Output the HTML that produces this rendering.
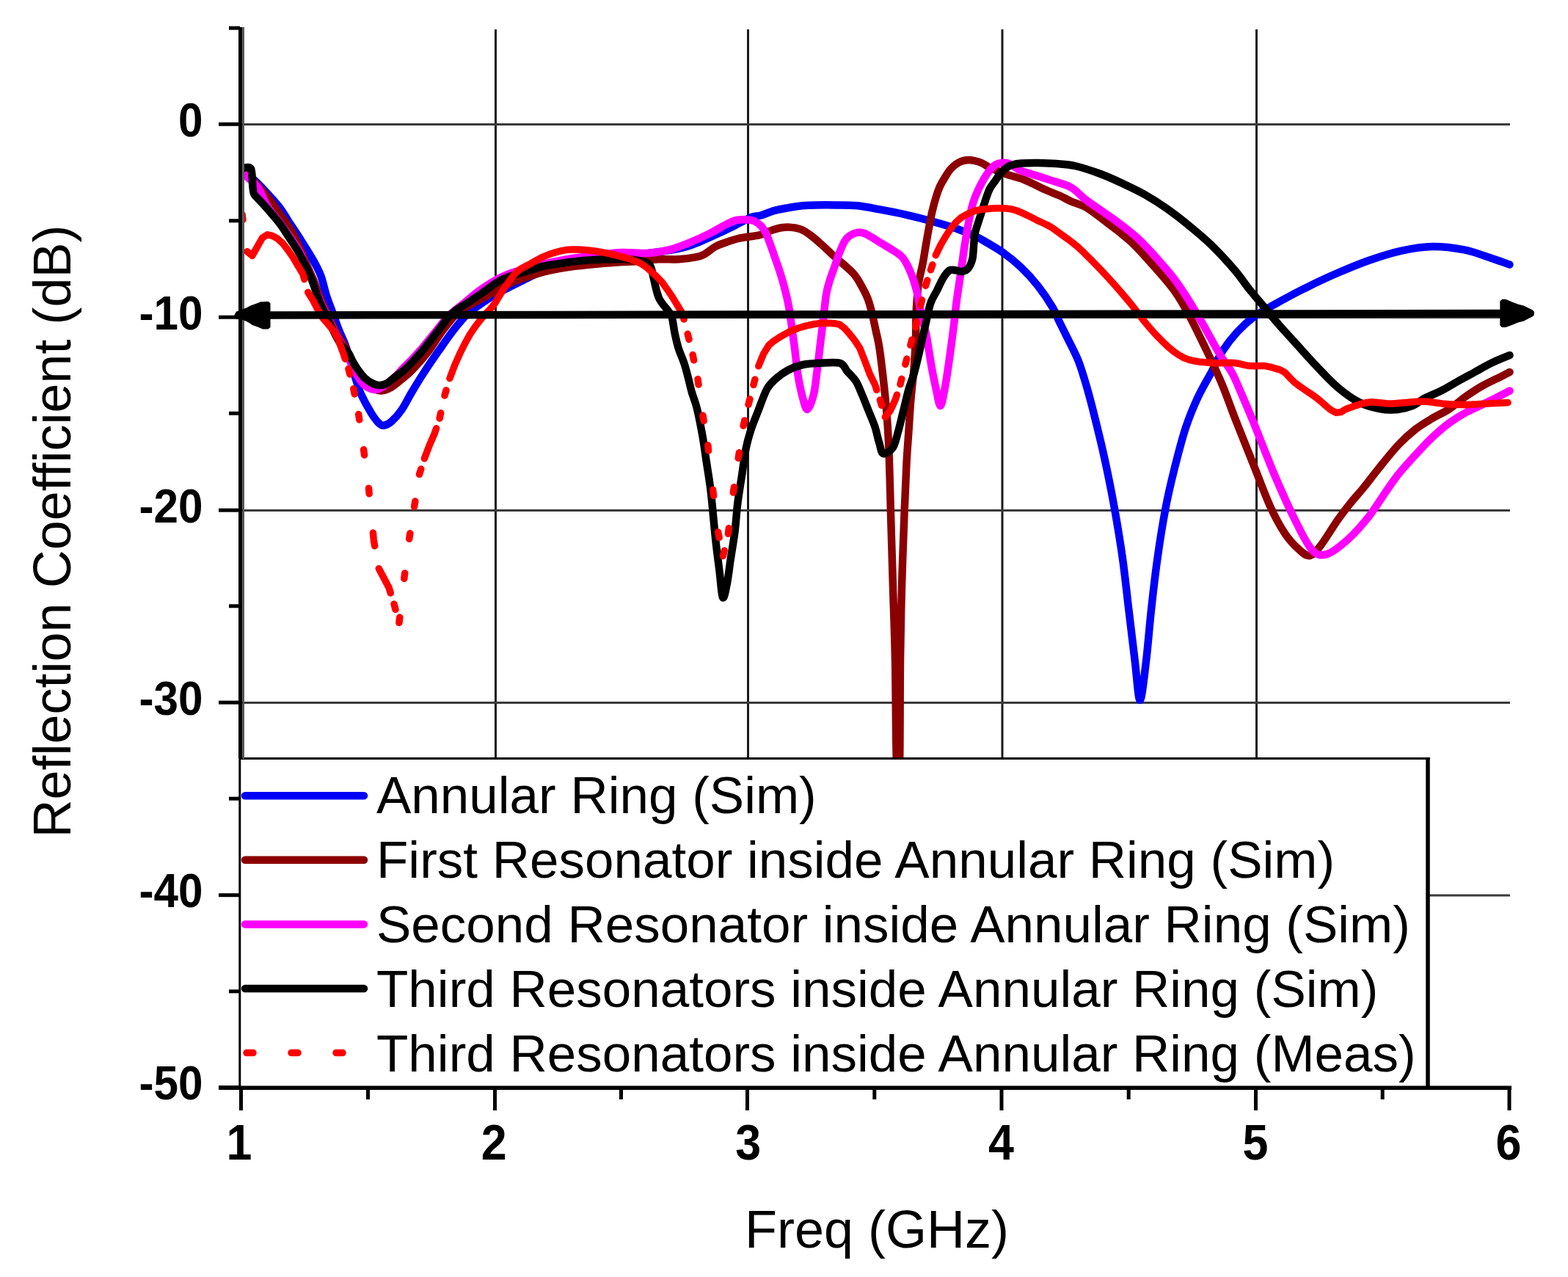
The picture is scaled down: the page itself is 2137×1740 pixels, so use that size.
<!DOCTYPE html>
<html><head><meta charset="utf-8"><title>Reflection Coefficient</title>
<style>html,body{margin:0;padding:0;background:#fff;width:2137px;height:1740px;overflow:hidden}svg{display:block}</style>
</head><body>
<svg xmlns="http://www.w3.org/2000/svg" width="2137" height="1740" viewBox="0 0 2137 1740">
<rect x="0" y="0" width="2137" height="1740" fill="#fff"/>
<g stroke="#1a1a1a" stroke-width="3" fill="none">
<line x1="675.5" y1="40" x2="675.5" y2="1482"/>
<line x1="1019.5" y1="40" x2="1019.5" y2="1482"/>
<line x1="1366.0" y1="40" x2="1366.0" y2="1482"/>
<line x1="1712.5" y1="40" x2="1712.5" y2="1482"/>
</g>
<g stroke="#3a3a3a" stroke-width="2.8" fill="none">
<line x1="330" y1="169.5" x2="2058" y2="169.5"/>
<line x1="330" y1="432.5" x2="2058" y2="432.5"/>
<line x1="330" y1="695.5" x2="2058" y2="695.5"/>
<line x1="330" y1="957.5" x2="2058" y2="957.5"/>
<line x1="330" y1="1220.0" x2="2058" y2="1220.0"/>
</g>
<g clip-path="url(#plotclip)">
<path d="M331.0,233.0C333.3,234.8 339.7,239.2 345.0,244.0C350.3,248.8 357.1,255.7 363.0,262.0C368.9,268.3 375.5,275.5 380.5,282.0C385.5,288.5 388.1,293.5 393.0,301.0C397.9,308.5 404.5,318.3 410.0,327.0C415.5,335.7 421.5,345.0 426.0,353.0C430.5,361.0 433.8,366.7 437.0,375.0C440.2,383.3 442.3,394.7 445.0,403.0C447.7,411.3 450.2,417.2 453.0,425.0C455.8,432.8 459.0,442.3 462.0,450.0C465.0,457.7 468.0,462.7 471.0,471.0C474.0,479.3 477.5,491.8 480.0,500.0C482.5,508.2 484.0,513.8 486.0,520.0C488.0,526.2 488.7,529.9 492.0,537.0C495.3,544.1 501.7,555.9 505.7,562.4C509.7,568.9 513.1,573.4 516.0,576.3C518.9,579.2 520.1,580.0 523.0,579.7C525.9,579.4 529.3,578.0 533.3,574.5C537.3,571.0 542.4,565.6 547.0,559.0C551.6,552.4 555.8,543.5 561.0,534.8C566.2,526.1 572.1,516.4 578.2,507.0C584.3,497.6 590.9,488.1 597.5,478.6C604.1,469.1 611.4,458.4 618.0,450.0C624.6,441.6 630.4,434.2 637.0,428.0C643.6,421.8 651.5,416.8 657.7,412.5C663.9,408.2 668.6,405.2 674.0,402.0C679.4,398.8 684.5,396.3 690.0,393.4C695.5,390.5 701.4,387.7 707.1,384.8C712.8,381.9 718.9,378.6 724.4,376.1C729.9,373.6 732.4,372.0 740.0,370.0C747.6,368.0 760.0,366.0 770.0,364.0C780.0,362.0 786.7,360.5 800.0,358.0C813.3,355.5 833.3,351.5 850.0,349.0C866.7,346.5 885.1,345.3 900.0,343.0C914.9,340.7 925.6,339.3 939.2,335.0C952.8,330.7 971.3,321.5 981.4,317.0C991.5,312.5 993.1,311.4 1000.0,308.0C1006.9,304.6 1016.6,298.7 1022.8,296.3C1029.0,293.9 1031.4,295.1 1036.9,293.5C1042.4,291.9 1049.5,288.6 1055.7,286.9C1062.0,285.2 1068.2,284.2 1074.4,283.1C1080.7,282.0 1086.9,280.9 1093.2,280.3C1099.5,279.7 1104.2,279.5 1112.0,279.4C1119.8,279.2 1130.6,279.2 1140.0,279.4C1149.4,279.5 1158.4,279.3 1168.2,280.3C1178.0,281.3 1188.2,283.4 1199.1,285.4C1210.0,287.4 1222.2,289.7 1233.7,292.3C1245.2,294.9 1256.7,297.8 1268.2,301.0C1279.7,304.2 1292.7,307.9 1302.8,311.3C1312.9,314.8 1322.5,319.0 1328.7,321.7C1334.9,324.4 1333.7,323.9 1340.0,327.6C1346.3,331.3 1357.9,337.7 1366.5,343.8C1375.1,349.9 1383.7,356.8 1391.8,364.5C1399.9,372.2 1407.8,380.9 1414.9,389.9C1422.0,398.9 1429.7,410.6 1434.5,418.7C1439.3,426.8 1440.2,431.1 1443.7,438.2C1447.2,445.3 1451.0,452.7 1455.2,461.3C1459.4,469.9 1465.0,480.2 1469.0,490.0C1473.0,499.8 1475.7,509.1 1479.0,520.0C1482.3,530.9 1484.3,537.9 1488.7,555.3C1493.1,572.7 1500.2,601.3 1505.3,624.4C1510.4,647.5 1514.9,670.5 1519.1,693.6C1523.2,716.7 1527.0,739.7 1530.2,762.7C1533.4,785.8 1535.7,808.9 1538.5,831.9C1541.3,854.9 1544.3,880.6 1546.8,901.0C1549.3,921.4 1551.2,954.0 1553.7,954.0C1556.2,954.0 1559.5,921.4 1562.0,901.0C1564.5,880.6 1566.4,854.9 1568.9,831.9C1571.4,808.9 1574.0,785.8 1577.2,762.7C1580.4,739.7 1584.4,714.3 1588.3,693.6C1592.2,672.9 1596.1,656.7 1600.7,638.3C1605.3,619.9 1610.6,599.1 1615.9,583.0C1621.2,566.9 1626.5,554.4 1632.5,541.5C1638.5,528.6 1646.3,516.0 1651.9,505.5C1657.5,495.0 1660.4,487.3 1666.1,478.4C1671.8,469.5 1679.2,459.9 1686.3,452.2C1693.4,444.5 1700.2,438.2 1708.5,432.0C1716.8,425.8 1724.6,421.8 1736.4,415.2C1748.2,408.6 1765.2,399.4 1779.6,392.2C1794.0,385.0 1808.4,378.2 1822.8,372.0C1837.2,365.8 1851.6,359.7 1866.0,354.7C1880.4,349.7 1894.8,344.9 1909.2,341.8C1923.6,338.7 1938.0,336.2 1952.4,336.0C1966.8,335.8 1983.6,338.1 1995.6,340.3C2007.6,342.5 2014.1,345.6 2024.4,349.0C2034.7,352.4 2052.0,358.6 2057.5,360.5" fill="none" stroke="#0000f8" stroke-width="10.5" stroke-linejoin="round" stroke-linecap="round"/>
<path d="M331.0,233.0C333.3,235.2 339.7,240.5 345.0,246.0C350.3,251.5 357.0,258.5 363.0,266.0C369.0,273.5 375.2,282.7 381.0,291.0C386.8,299.3 393.2,307.7 398.0,316.0C402.8,324.3 406.5,333.2 410.0,341.0C413.5,348.8 416.2,356.3 419.0,363.0C421.8,369.7 424.7,375.3 427.0,381.0C429.3,386.7 430.8,391.5 433.0,397.0C435.2,402.5 437.3,408.0 440.0,414.0C442.7,420.0 445.7,426.0 449.0,433.0C452.3,440.0 456.5,449.5 460.0,456.0C463.5,462.5 466.2,465.0 470.0,472.0C473.8,479.0 478.8,490.7 483.0,498.0C487.2,505.3 491.0,511.0 495.0,516.0C499.0,521.0 502.9,525.2 507.0,528.0C511.1,530.8 515.3,532.4 519.5,532.5C523.7,532.6 527.6,530.9 532.0,528.5C536.4,526.1 541.0,522.1 546.0,518.0C551.0,513.9 555.7,510.6 562.0,504.0C568.3,497.4 577.1,487.6 584.0,478.6C590.9,469.6 596.8,458.9 603.6,450.0C610.4,441.1 617.9,431.2 625.0,425.0C632.1,418.8 638.4,417.0 646.4,412.5C654.4,408.0 664.4,402.8 673.3,398.0C682.2,393.2 688.5,388.6 700.0,384.0C711.5,379.4 730.5,373.4 742.2,370.2C753.9,367.0 760.8,366.1 770.4,364.6C780.0,363.1 788.3,362.2 800.0,361.0C811.7,359.8 829.2,358.3 840.7,357.5C852.2,356.7 859.4,356.8 868.8,356.1C878.2,355.4 887.6,353.8 897.0,353.3C906.4,352.8 916.6,353.8 925.1,353.3C933.6,352.8 942.3,351.6 948.2,350.4C954.1,349.2 955.8,348.7 960.3,346.3C964.8,343.9 970.0,338.7 975.0,336.0C980.0,333.3 984.4,331.9 990.0,330.0C995.6,328.1 1002.5,325.8 1008.8,324.4C1015.0,323.0 1022.8,322.4 1027.5,321.6C1032.2,320.8 1033.0,320.9 1036.9,319.7C1040.8,318.4 1046.3,315.7 1051.0,314.1C1055.7,312.5 1060.3,311.0 1065.0,310.3C1069.7,309.6 1074.4,309.4 1079.1,309.9C1083.8,310.4 1088.5,311.1 1093.2,313.2C1097.9,315.3 1102.6,318.9 1107.3,322.5C1112.0,326.1 1116.6,330.5 1121.3,334.7C1126.0,338.9 1130.7,343.7 1135.4,347.9C1140.1,352.1 1144.8,355.8 1149.5,360.0C1154.2,364.2 1159.6,368.6 1163.5,373.2C1167.4,377.8 1169.8,381.8 1172.9,387.3C1176.0,392.8 1179.8,399.7 1182.3,406.0C1184.8,412.3 1186.0,417.3 1188.0,425.0C1190.0,432.7 1192.2,443.8 1194.0,452.0C1195.8,460.2 1196.9,463.3 1198.5,474.0C1200.1,484.7 1202.2,502.1 1203.8,516.4C1205.4,530.7 1207.0,545.2 1208.2,559.6C1209.4,574.0 1210.3,588.4 1211.0,602.8C1211.7,617.2 1212.0,629.8 1212.5,646.0C1213.0,662.2 1213.2,674.3 1214.0,700.0C1214.8,725.7 1216.0,766.7 1217.0,800.0C1218.0,833.3 1219.2,859.2 1220.0,900.0C1220.8,940.8 1221.0,1020.8 1222.0,1045.0C1223.0,1069.2 1225.2,1069.2 1226.0,1045.0C1226.8,1020.8 1226.5,940.8 1227.0,900.0C1227.5,859.2 1228.1,833.3 1229.0,800.0C1229.9,766.7 1231.4,728.1 1232.5,700.0C1233.6,671.9 1234.5,650.2 1235.5,631.6C1236.5,613.0 1237.4,602.8 1238.4,588.4C1239.4,574.0 1240.1,559.6 1241.3,545.2C1242.5,530.8 1244.5,516.2 1245.6,502.0C1246.7,487.8 1247.5,472.0 1248.0,460.0C1248.5,448.0 1248.2,439.2 1248.5,430.0C1248.8,420.8 1249.4,412.5 1250.0,405.0C1250.6,397.5 1250.7,392.7 1252.0,385.0C1253.3,377.3 1255.9,367.7 1257.6,359.0C1259.3,350.3 1260.6,341.1 1262.0,333.0C1263.4,324.9 1264.6,318.1 1266.0,310.6C1267.4,303.1 1268.9,294.9 1270.5,288.0C1272.1,281.1 1273.8,274.7 1275.6,269.0C1277.3,263.3 1278.9,258.6 1281.0,254.0C1283.1,249.4 1285.7,245.3 1288.0,241.5C1290.3,237.7 1292.5,234.0 1295.0,231.0C1297.5,228.0 1300.6,225.4 1303.3,223.5C1306.0,221.6 1308.2,220.4 1311.0,219.5C1313.8,218.6 1317.0,218.1 1319.8,218.0C1322.6,217.9 1325.0,218.3 1328.0,219.0C1331.0,219.7 1334.5,220.6 1337.8,222.0C1341.0,223.4 1343.6,225.7 1347.5,227.6C1351.4,229.5 1356.4,231.7 1361.0,233.5C1365.6,235.3 1369.2,236.6 1375.0,238.5C1380.8,240.4 1387.9,241.8 1396.0,245.0C1404.1,248.2 1415.5,254.4 1423.5,258.0C1431.5,261.6 1437.9,263.8 1444.0,266.5C1450.1,269.2 1453.9,271.8 1460.0,274.5C1466.1,277.2 1472.1,277.7 1480.6,282.8C1489.1,287.9 1500.8,297.3 1510.9,305.0C1521.0,312.7 1531.0,319.8 1541.1,329.2C1551.2,338.6 1561.3,350.1 1571.4,361.5C1581.5,372.9 1593.2,385.9 1601.6,397.7C1610.0,409.4 1615.1,419.6 1621.8,432.0C1628.5,444.4 1635.9,459.9 1641.9,472.3C1647.9,484.7 1653.6,497.0 1658.0,506.6C1662.4,516.2 1663.7,518.8 1668.1,530.0C1672.5,541.2 1678.0,556.7 1684.6,573.6C1691.2,590.5 1699.9,612.0 1707.6,631.2C1715.3,650.4 1723.4,672.9 1730.6,688.8C1737.8,704.6 1744.1,716.2 1750.8,726.3C1757.5,736.4 1765.2,744.2 1771.0,749.3C1776.8,754.4 1780.6,758.0 1785.4,757.0C1790.2,756.0 1793.6,751.5 1799.8,743.5C1806.0,735.5 1816.2,718.4 1822.8,709.0C1829.4,699.6 1833.5,694.4 1839.4,687.0C1845.3,679.6 1851.6,672.8 1858.4,664.5C1865.2,656.2 1872.1,646.8 1880.0,637.0C1887.9,627.2 1897.8,614.7 1906.0,606.0C1914.2,597.3 1921.3,591.0 1929.0,585.0C1936.7,579.0 1944.3,574.6 1952.0,570.0C1959.7,565.4 1967.3,562.5 1975.0,557.5C1982.7,552.5 1990.3,545.4 1998.0,540.0C2005.7,534.6 2013.3,529.6 2021.0,525.3C2028.7,521.0 2037.9,517.0 2044.0,514.0C2050.1,510.9 2055.2,508.2 2057.5,507.0" fill="none" stroke="#8b0000" stroke-width="10.5" stroke-linejoin="round" stroke-linecap="round"/>
<path d="M331.0,236.0C332.5,237.3 336.5,240.7 340.0,244.0C343.5,247.3 347.8,249.7 352.0,256.0C356.2,262.3 360.2,274.2 365.0,282.0C369.8,289.8 375.5,295.5 381.0,303.0C386.5,310.5 393.2,319.8 398.0,327.0C402.8,334.2 406.8,340.0 410.0,346.0C413.2,352.0 414.5,357.2 417.0,363.0C419.5,368.8 422.7,375.3 425.0,381.0C427.3,386.7 428.8,391.5 431.0,397.0C433.2,402.5 435.3,408.0 438.0,414.0C440.7,420.0 443.7,426.0 447.0,433.0C450.3,440.0 454.7,449.5 458.0,456.0C461.3,462.5 464.0,466.3 467.0,472.0C470.0,477.7 472.8,483.7 476.0,490.0C479.2,496.3 482.8,504.5 486.0,510.0C489.2,515.5 491.7,519.7 495.0,523.0C498.3,526.3 502.5,528.8 506.0,530.0C509.5,531.2 512.3,531.3 516.0,530.0C519.7,528.7 524.0,525.0 528.0,522.0C532.0,519.0 536.3,515.5 540.0,512.0C543.7,508.5 546.3,504.8 550.0,501.0C553.7,497.2 558.2,493.0 562.0,489.0C565.8,485.0 567.5,483.5 573.0,477.0C578.5,470.5 588.5,457.8 595.0,450.0C601.5,442.2 605.7,436.2 612.0,430.0C618.3,423.8 626.3,418.0 633.0,412.5C639.7,407.0 645.2,402.0 652.0,397.0C658.8,392.0 666.8,386.6 674.0,382.5C681.2,378.4 688.7,375.2 695.0,372.7C701.3,370.2 704.5,369.6 712.0,367.5C719.5,365.4 728.7,362.6 740.0,360.0C751.3,357.4 766.7,354.2 780.0,352.0C793.3,349.8 808.7,348.3 820.0,347.0C831.3,345.7 837.2,344.4 847.7,344.0C858.2,343.6 872.3,345.4 882.9,344.9C893.5,344.3 901.7,343.0 911.1,340.7C920.5,338.4 929.8,334.6 939.2,330.8C948.6,327.0 958.8,322.3 967.3,318.1C975.8,313.9 983.9,308.6 990.0,305.6C996.1,302.6 999.3,301.0 1004.0,300.0C1008.7,299.0 1014.1,299.3 1018.0,299.5C1021.9,299.7 1024.3,299.7 1027.5,301.0C1030.7,302.3 1034.2,304.9 1036.9,307.5C1039.6,310.1 1041.5,313.0 1043.5,316.9C1045.5,320.8 1047.1,325.5 1049.1,331.0C1051.1,336.5 1053.5,343.4 1055.7,349.7C1057.9,355.9 1060.2,362.2 1062.2,368.5C1064.2,374.8 1066.2,381.1 1067.9,387.3C1069.6,393.6 1071.3,400.5 1072.6,406.0C1073.8,411.5 1074.3,413.6 1075.4,420.1C1076.5,426.6 1077.8,436.1 1079.0,445.0C1080.2,453.9 1081.5,462.5 1082.9,473.2C1084.3,483.9 1085.5,498.4 1087.2,509.2C1088.9,520.0 1090.8,529.9 1093.0,538.0C1095.2,546.1 1097.6,558.0 1100.2,558.0C1102.8,558.0 1106.7,546.1 1108.8,538.0C1110.9,529.9 1111.7,520.0 1113.1,509.2C1114.5,498.4 1116.0,485.2 1117.4,473.2C1118.9,461.2 1120.4,449.2 1121.8,437.2C1123.2,425.2 1124.5,410.4 1126.0,401.3C1127.5,392.2 1128.8,388.9 1130.7,382.6C1132.6,376.4 1135.1,370.1 1137.3,363.8C1139.5,357.5 1141.4,350.9 1143.8,345.0C1146.2,339.1 1148.9,332.2 1151.4,328.2C1153.9,324.1 1156.1,322.6 1158.9,320.7C1161.7,318.8 1165.1,317.4 1168.2,316.9C1171.3,316.4 1174.0,316.6 1177.6,317.8C1181.2,319.1 1186.4,322.3 1190.0,324.4C1193.6,326.5 1194.7,327.6 1199.1,330.3C1203.5,333.0 1211.2,337.2 1216.4,340.7C1221.6,344.1 1226.2,346.1 1230.2,351.0C1234.2,355.9 1237.4,362.5 1240.6,370.0C1243.8,377.5 1246.9,387.3 1249.2,396.0C1251.5,404.7 1252.9,414.7 1254.4,422.0C1256.0,429.3 1257.1,433.9 1258.5,440.0C1259.9,446.1 1261.0,448.5 1262.9,458.8C1264.8,469.1 1267.8,490.0 1270.0,502.0C1272.2,514.0 1274.0,522.3 1275.9,530.8C1277.8,539.3 1279.7,553.0 1281.6,553.0C1283.5,553.0 1285.5,540.5 1287.4,530.8C1289.3,521.1 1291.2,508.0 1293.1,494.8C1295.0,481.6 1297.5,462.4 1298.9,451.6C1300.3,440.8 1300.6,437.8 1301.5,430.0C1302.4,422.2 1303.1,414.6 1304.5,404.6C1305.9,394.6 1308.0,381.5 1309.7,370.0C1311.4,358.5 1312.7,347.0 1314.5,335.5C1316.3,324.0 1318.6,310.8 1320.5,301.0C1322.4,291.2 1323.9,284.0 1326.0,277.0C1328.1,270.0 1330.3,264.8 1333.0,259.0C1335.7,253.2 1339.3,246.5 1342.0,242.0C1344.7,237.5 1346.7,234.8 1349.0,232.0C1351.3,229.2 1353.3,226.7 1356.0,225.0C1358.7,223.3 1362.0,222.4 1365.0,222.0C1368.0,221.6 1371.2,221.7 1374.0,222.5C1376.8,223.3 1379.2,225.3 1382.0,227.0C1384.8,228.7 1386.9,230.8 1391.0,232.5C1395.1,234.2 1399.9,235.3 1406.7,237.5C1413.5,239.7 1423.1,242.6 1432.0,245.6C1440.9,248.6 1451.9,251.0 1460.0,255.5C1468.1,260.0 1470.4,265.1 1480.6,272.7C1490.8,280.3 1509.2,292.2 1521.0,301.0C1532.8,309.8 1541.1,315.8 1551.2,325.2C1561.3,334.6 1573.1,348.0 1581.5,357.4C1589.9,366.8 1594.9,372.5 1601.6,381.6C1608.3,390.7 1615.1,401.1 1621.8,411.9C1628.5,422.6 1635.2,434.4 1641.9,446.1C1648.6,457.9 1656.0,472.2 1662.1,482.4C1668.2,492.5 1673.8,498.7 1678.5,507.0C1683.2,515.3 1685.2,520.9 1690.0,532.0C1694.8,543.1 1699.9,554.7 1707.6,573.6C1715.3,592.5 1726.8,623.0 1736.4,645.6C1746.0,668.2 1756.6,691.7 1765.2,709.0C1773.8,726.3 1781.0,741.6 1788.2,749.3C1795.4,757.0 1800.2,757.5 1808.4,755.1C1816.6,752.7 1827.6,743.5 1837.2,734.9C1846.8,726.2 1857.4,714.0 1866.0,703.2C1874.6,692.4 1882.1,679.5 1888.8,670.0C1895.5,660.5 1899.3,654.3 1906.0,646.0C1912.7,637.7 1921.3,628.3 1929.0,620.0C1936.7,611.7 1944.3,603.2 1952.0,596.0C1959.7,588.8 1967.3,582.2 1975.0,576.5C1982.7,570.8 1990.3,566.2 1998.0,562.0C2005.7,557.8 2013.3,554.8 2021.0,551.0C2028.7,547.2 2037.9,542.6 2044.0,539.5C2050.1,536.4 2055.2,533.7 2057.5,532.5" fill="none" stroke="#ff00ff" stroke-width="10.5" stroke-linejoin="round" stroke-linecap="round"/>
<path d="M331.0,229.0C332.8,229.2 339.8,225.7 342.0,230.0C344.2,234.3 343.8,249.3 344.5,255.0C345.2,260.7 344.9,261.5 346.0,264.0C347.1,266.5 348.2,266.8 351.0,270.0C353.8,273.2 358.2,277.5 363.0,283.0C367.8,288.5 375.7,297.5 380.0,303.0C384.3,308.5 384.7,309.5 389.0,316.0C393.3,322.5 401.3,334.2 406.0,342.0C410.7,349.8 413.8,356.5 417.0,363.0C420.2,369.5 422.8,375.3 425.0,381.0C427.2,386.7 428.5,391.5 430.5,397.0C432.5,402.5 434.4,408.0 437.0,414.0C439.6,420.0 442.7,426.0 446.0,433.0C449.3,440.0 453.8,449.8 457.0,456.0C460.2,462.2 462.0,465.8 465.0,470.0C468.0,474.2 472.3,477.2 475.0,481.0C477.7,484.8 478.8,489.2 481.0,493.0C483.2,496.8 485.3,500.3 488.0,504.0C490.7,507.7 493.8,512.0 497.0,515.0C500.2,518.0 503.8,520.3 507.0,522.0C510.2,523.7 513.1,524.8 516.3,525.0C519.5,525.2 522.4,524.8 526.0,523.0C529.6,521.2 533.8,517.2 538.0,514.0C542.2,510.8 546.8,507.7 551.0,504.0C555.2,500.3 559.0,496.2 563.0,492.0C567.0,487.8 569.2,485.6 575.0,478.6C580.8,471.6 590.9,458.4 597.6,450.0C604.3,441.6 608.4,434.2 615.0,428.0C621.6,421.8 630.6,417.2 637.4,412.5C644.2,407.8 648.7,405.0 656.0,400.0C663.3,395.0 672.5,387.1 681.0,382.5C689.5,377.9 699.8,375.2 707.0,372.7C714.2,370.2 718.6,369.2 724.4,367.5C730.2,365.8 735.1,363.7 741.7,362.3C748.3,360.9 756.2,360.0 764.2,358.9C772.2,357.8 781.4,356.3 790.0,355.4C798.6,354.5 806.0,354.1 816.0,353.7C826.0,353.3 840.2,352.6 850.0,353.0C859.8,353.4 869.0,354.5 875.0,356.0C881.0,357.5 883.3,358.0 886.0,362.0C888.7,366.0 889.6,374.5 891.0,380.0C892.4,385.5 893.3,390.7 894.5,395.0C895.7,399.3 896.6,402.8 898.0,406.0C899.4,409.2 900.8,411.0 903.0,414.0C905.2,417.0 908.8,420.8 911.0,424.0C913.2,427.2 914.6,428.4 916.0,433.4C917.4,438.4 918.1,447.1 919.6,454.0C921.1,460.9 922.6,468.0 924.8,474.9C927.0,481.8 930.4,488.7 932.6,495.6C934.9,502.5 936.6,509.7 938.3,516.3C940.0,522.9 941.0,528.2 943.0,535.0C945.0,541.8 947.6,547.1 950.0,556.9C952.4,566.7 955.2,581.4 957.4,593.7C959.6,606.0 961.1,618.3 963.0,630.6C964.9,642.9 967.0,655.2 968.5,667.5C970.0,679.8 971.0,692.0 972.2,704.3C973.4,716.6 974.5,728.9 975.9,741.2C977.3,753.5 979.0,765.9 980.5,778.0C982.0,790.1 983.3,810.9 985.0,814.0C986.7,817.1 988.8,805.6 990.6,796.5C992.5,787.4 994.2,771.9 996.1,759.6C998.0,747.3 1000.2,735.1 1001.7,722.8C1003.2,710.5 1003.8,698.2 1005.3,685.9C1006.8,673.6 1009.0,661.3 1010.9,649.0C1012.8,636.7 1014.2,623.0 1016.4,612.2C1018.5,601.5 1021.0,593.1 1023.8,584.5C1026.6,575.9 1029.4,569.7 1033.0,560.6C1036.6,551.5 1041.2,537.4 1045.3,530.0C1049.4,522.6 1052.5,520.4 1057.4,516.1C1062.3,511.8 1068.5,507.2 1074.6,504.0C1080.7,500.8 1087.1,498.5 1094.0,497.0C1100.9,495.5 1107.5,495.2 1116.0,494.8C1124.5,494.4 1138.3,492.9 1144.8,494.8C1151.3,496.7 1151.3,502.2 1154.9,506.3C1158.5,510.4 1163.1,514.0 1166.4,519.3C1169.8,524.6 1172.1,531.3 1175.0,538.0C1177.9,544.7 1180.8,552.4 1183.7,559.6C1186.6,566.8 1189.9,574.0 1192.3,581.2C1194.7,588.4 1196.2,596.7 1198.1,602.8C1200.0,608.9 1200.7,616.8 1203.8,618.0C1206.9,619.2 1213.4,614.9 1216.8,610.0C1220.2,605.1 1221.6,596.8 1224.0,588.4C1226.4,580.0 1228.8,569.2 1231.2,559.6C1233.6,550.0 1236.0,539.2 1238.4,530.8C1240.8,522.4 1243.2,517.6 1245.6,509.2C1248.0,500.8 1250.2,491.6 1252.8,480.4C1255.4,469.2 1258.8,453.2 1261.4,442.0C1264.0,430.8 1265.6,421.0 1268.2,413.3C1270.8,405.6 1274.0,401.8 1276.9,396.0C1279.8,390.2 1282.6,383.3 1285.5,378.7C1288.4,374.1 1291.3,370.1 1294.2,368.4C1297.1,366.7 1299.9,368.1 1302.8,368.4C1305.7,368.7 1308.5,370.6 1311.4,370.0C1314.3,369.4 1317.7,367.9 1320.0,365.0C1322.3,362.1 1324.1,357.7 1325.3,352.8C1326.5,347.9 1326.4,341.3 1327.0,335.5C1327.6,329.7 1327.5,323.9 1328.7,318.2C1329.9,312.4 1332.2,306.5 1333.9,301.0C1335.6,295.5 1337.4,290.3 1339.1,285.0C1340.8,279.7 1342.6,273.7 1344.3,269.0C1346.0,264.3 1347.0,260.8 1349.0,257.0C1351.0,253.2 1353.9,249.9 1356.3,246.5C1358.7,243.1 1360.8,239.4 1363.3,236.5C1365.8,233.6 1368.2,231.0 1371.0,229.0C1373.8,227.0 1376.5,225.6 1380.0,224.5C1383.5,223.4 1386.2,222.9 1392.0,222.5C1397.8,222.1 1407.0,221.9 1415.0,222.0C1423.0,222.1 1431.7,222.3 1440.0,223.0C1448.3,223.7 1455.0,223.7 1465.0,226.0C1475.0,228.3 1489.2,233.0 1500.0,237.0C1510.8,241.0 1520.0,245.3 1530.0,250.0C1540.0,254.7 1550.0,259.3 1560.0,265.0C1570.0,270.7 1580.0,277.0 1590.0,284.0C1600.0,291.0 1610.0,298.8 1620.0,307.0C1630.0,315.2 1639.6,322.9 1650.0,333.0C1660.4,343.1 1673.6,357.4 1682.3,367.5C1691.0,377.6 1695.7,385.3 1702.4,393.7C1709.1,402.1 1715.9,409.8 1722.6,417.9C1729.3,426.0 1735.6,433.9 1742.7,442.1C1749.8,450.3 1756.7,457.6 1765.2,467.0C1773.8,476.4 1784.4,488.6 1794.0,498.7C1803.6,508.8 1813.2,519.3 1822.8,527.5C1832.4,535.7 1842.0,542.8 1851.6,547.7C1861.2,552.6 1871.5,555.3 1880.4,557.0C1889.3,558.7 1897.6,558.7 1905.0,558.0C1912.4,557.3 1918.8,555.6 1925.0,553.0C1931.2,550.4 1935.5,545.9 1942.0,542.5C1948.5,539.1 1956.5,536.3 1964.0,532.5C1971.5,528.7 1979.3,523.8 1987.0,519.5C1994.7,515.2 2002.3,511.2 2010.0,507.0C2017.7,502.8 2025.1,498.3 2033.0,494.5C2040.9,490.7 2053.4,485.8 2057.5,484.0" fill="none" stroke="#000000" stroke-width="10.5" stroke-linejoin="round" stroke-linecap="round"/>
<path d="M330.0,292.0 L331.0,299.4 M336.9,342.8 L343.8,348.4 M343.8,348.4 L350.7,336.1 M350.7,336.1 L357.6,324.0 M357.6,324.0 L364.5,319.8 M364.5,319.8 L371.4,321.4 M371.4,321.4 L378.3,325.2 M378.3,325.2 L385.2,331.4 M385.2,331.4 L392.1,340.2 M392.1,340.2 L399.0,350.1 M399.0,350.1 L405.9,361.9 M405.9,361.9 L412.8,373.3 M412.8,373.3 L414.8,380.5 M419.7,398.2 L426.6,409.3 M426.6,409.3 L433.5,422.6 M433.5,422.6 L440.4,433.9 M440.4,433.9 L447.3,442.0 M447.3,442.0 L454.2,450.1 M454.2,450.1 L461.1,463.0 M461.1,463.0 L468.0,481.7 M468.0,481.7 L470.4,488.9 M474.9,502.6 L476.8,509.9 M481.8,529.7 L483.3,537.0 M488.7,564.5 L489.8,571.9 M495.6,612.6 L496.6,620.1 M502.5,665.3 L503.2,672.8 M508.4,726.0 L509.1,733.5 M509.4,736.6 L510.7,743.9 M516.3,774.7 L523.2,787.8 M523.2,787.8 L530.1,800.8 M530.1,800.8 L532.3,808.0 M537.0,823.1 L539.0,830.4 M543.9,848.6 L544.8,841.1 M550.8,788.4 L551.7,781.0 M557.7,734.3 L558.9,726.8 M564.6,690.4 L565.8,683.0 M571.5,646.3 L573.8,639.1 M578.4,624.8 L585.3,606.6 M585.3,606.6 L592.2,590.8 M592.2,590.8 L594.6,583.7 M599.1,570.0 L600.7,562.7 M606.0,538.9 L608.1,531.7 M612.9,515.6 L619.8,497.4 M619.8,497.4 L626.7,481.9 M626.7,481.9 L633.6,468.0 M633.6,468.0 L640.5,455.6 M640.5,455.6 L647.4,445.3 M647.4,445.3 L654.3,436.3 M654.3,436.3 L661.2,428.3 M661.2,428.3 L668.1,421.3 M668.1,421.3 L675.0,412.6 M675.0,412.6 L681.9,401.1 M681.9,401.1 L688.8,390.5 M688.8,390.5 L695.7,380.6 M695.7,380.6 L702.6,372.1 M702.6,372.1 L709.5,366.5 M709.5,366.5 L716.4,362.8 M716.4,362.8 L723.3,359.1 M723.3,359.1 L730.2,355.1 M730.2,355.1 L737.1,351.4 M737.1,351.4 L744.0,348.4 M744.0,348.4 L750.9,345.8 M750.9,345.8 L757.8,343.6 M757.8,343.6 L764.7,341.8 M764.7,341.8 L771.6,340.5 M771.6,340.5 L778.5,340.0 M778.5,340.0 L785.4,339.9 M785.4,339.9 L792.3,340.3 M792.3,340.3 L799.2,340.8 M799.2,340.8 L806.1,341.5 M806.1,341.5 L813.0,342.4 M813.0,342.4 L819.9,343.6 M819.9,343.6 L826.8,344.9 M826.8,344.9 L833.7,346.4 M833.7,346.4 L840.6,348.1 M840.6,348.1 L847.5,349.9 M847.5,349.9 L854.4,351.8 M854.4,351.8 L861.3,353.9 M861.3,353.9 L868.2,356.6 M868.2,356.6 L875.1,360.1 M875.1,360.1 L882.0,364.9 M882.0,364.9 L888.9,371.1 M888.9,371.1 L895.8,377.7 M895.8,377.7 L902.7,385.1 M902.7,385.1 L909.6,394.7 M909.6,394.7 L916.5,404.9 M916.5,404.9 L923.4,416.3 M923.4,416.3 L930.3,427.7 M930.3,427.7 L932.1,435.0 M937.2,455.1 L939.0,462.4 M944.1,483.5 L945.6,490.8 M951.0,516.6 L952.0,524.1 M957.9,566.1 L959.2,573.5 M964.8,606.6 L965.6,614.1 M971.6,667.2 L971.7,668.2 M971.7,668.2 L972.6,675.6 M978.6,725.0 L980.2,732.4 M985.5,757.5 L987.2,750.2 M992.4,727.3 L993.3,719.8 M999.3,671.1 L1000.4,663.7 M1006.2,624.2 L1007.4,616.8 M1013.1,580.2 L1014.8,572.9 M1020.0,551.1 L1021.9,543.8 M1026.9,524.4 L1028.9,517.1 M1033.8,498.8 L1040.7,481.9 M1040.7,481.9 L1047.6,470.7 M1047.6,470.7 L1054.5,464.7 M1054.5,464.7 L1061.4,460.2 M1061.4,460.2 L1068.3,456.1 M1068.3,456.1 L1075.2,452.3 M1075.2,452.3 L1082.1,449.2 M1082.1,449.2 L1089.0,446.7 M1089.0,446.7 L1095.9,444.7 M1095.9,444.7 L1102.8,443.0 M1102.8,443.0 L1109.7,441.6 M1109.7,441.6 L1116.6,440.6 M1116.6,440.6 L1123.5,440.2 M1123.5,440.2 L1130.4,440.2 M1130.4,440.2 L1137.3,440.7 M1137.3,440.7 L1144.2,442.1 M1144.2,442.1 L1151.1,447.3 M1151.1,447.3 L1158.0,455.2 M1158.0,455.2 L1164.9,463.9 M1164.9,463.9 L1171.8,474.3 M1171.8,474.3 L1178.7,492.0 M1178.7,492.0 L1185.6,510.2 M1185.6,510.2 L1192.5,524.1 M1192.5,524.1 L1194.8,531.2 M1199.4,545.1 L1201.6,552.3 M1206.3,568.1 L1213.2,559.8 M1213.2,559.8 L1220.1,545.1 M1220.1,545.1 L1222.4,537.9 M1227.0,523.6 L1228.8,516.3 M1233.9,496.4 L1235.8,489.1 M1240.8,470.2 L1242.8,463.0 M1247.7,445.9 L1249.4,438.6 M1254.6,416.2 L1256.5,408.9 M1261.5,389.2 L1263.8,382.0 M1268.4,367.8 L1270.9,360.7 M1275.3,347.8 L1282.2,333.4 M1282.2,333.4 L1289.1,321.6 M1289.1,321.6 L1296.0,311.4 M1296.0,311.4 L1302.9,302.8 M1302.9,302.8 L1309.8,296.6 M1309.8,296.6 L1316.7,292.5 M1316.7,292.5 L1323.6,289.4 M1323.6,289.4 L1330.5,286.8 M1330.5,286.8 L1337.4,285.3 M1337.4,285.3 L1344.3,284.7 M1344.3,284.7 L1351.2,284.0 M1351.2,284.0 L1358.1,283.7 M1358.1,283.7 L1365.0,283.7 M1365.0,283.7 L1371.9,284.1 M1371.9,284.1 L1378.8,285.0 M1378.8,285.0 L1385.7,287.0 M1385.7,287.0 L1392.6,289.9 M1392.6,289.9 L1399.5,293.1 M1399.5,293.1 L1406.4,296.5 M1406.4,296.5 L1413.3,300.1 M1413.3,300.1 L1420.2,303.3 M1420.2,303.3 L1427.1,306.5 M1427.1,306.5 L1434.0,310.4 M1434.0,310.4 L1440.9,315.3 M1440.9,315.3 L1447.8,320.3 M1447.8,320.3 L1454.7,325.3 M1454.7,325.3 L1461.6,330.5 M1461.6,330.5 L1468.5,336.1 M1468.5,336.1 L1475.4,342.4 M1475.4,342.4 L1482.3,349.3 M1482.3,349.3 L1489.2,356.2 M1489.2,356.2 L1496.1,363.3 M1496.1,363.3 L1503.0,370.5 M1503.0,370.5 L1509.9,377.9 M1509.9,377.9 L1516.8,385.6 M1516.8,385.6 L1523.7,393.4 M1523.7,393.4 L1530.6,401.4 M1530.6,401.4 L1537.5,409.6 M1537.5,409.6 L1544.4,418.0 M1544.4,418.0 L1551.3,427.1 M1551.3,427.1 L1558.2,436.2 M1558.2,436.2 L1565.1,444.6 M1565.1,444.6 L1572.0,452.4 M1572.0,452.4 L1578.9,459.7 M1578.9,459.7 L1585.8,466.6 M1585.8,466.6 L1592.7,473.2 M1592.7,473.2 L1599.6,478.9 M1599.6,478.9 L1606.5,483.7 M1606.5,483.7 L1613.4,487.5 M1613.4,487.5 L1620.3,490.1 M1620.3,490.1 L1627.2,491.8 M1627.2,491.8 L1634.1,492.9 M1634.1,492.9 L1641.0,493.6 M1641.0,493.6 L1647.9,494.2 M1647.9,494.2 L1654.8,494.6 M1654.8,494.6 L1661.7,494.7 M1661.7,494.7 L1668.6,494.5 M1668.6,494.5 L1675.5,494.3 M1675.5,494.3 L1682.4,494.5 M1682.4,494.5 L1689.3,495.6 M1689.3,495.6 L1696.2,497.3 M1696.2,497.3 L1703.1,498.6 M1703.1,498.6 L1710.0,498.7 M1710.0,498.7 L1716.9,498.4 M1716.9,498.4 L1723.8,498.6 M1723.8,498.6 L1730.7,499.9 M1730.7,499.9 L1737.6,501.9 M1737.6,501.9 L1744.5,503.8 M1744.5,503.8 L1751.4,507.7 M1751.4,507.7 L1758.3,515.1 M1758.3,515.1 L1765.2,521.8 M1765.2,521.8 L1772.1,526.9 M1772.1,526.9 L1779.0,531.6 M1779.0,531.6 L1785.9,536.2 M1785.9,536.2 L1792.8,541.0 M1792.8,541.0 L1799.7,546.5 M1799.7,546.5 L1806.6,552.6 M1806.6,552.6 L1813.5,558.4 M1813.5,558.4 L1820.4,562.2 M1820.4,562.2 L1827.3,561.6 M1827.3,561.6 L1834.2,557.5 M1834.2,557.5 L1841.1,555.0 M1841.1,555.0 L1848.0,552.6 M1848.0,552.6 L1854.9,550.4 M1854.9,550.4 L1861.8,548.7 M1861.8,548.7 L1868.7,547.8 M1868.7,547.8 L1875.6,548.2 M1875.6,548.2 L1882.5,549.1 M1882.5,549.1 L1889.4,549.8 M1889.4,549.8 L1896.3,550.0 M1896.3,550.0 L1903.2,549.6 M1903.2,549.6 L1910.1,549.0 M1910.1,549.0 L1917.0,548.4 M1917.0,548.4 L1923.9,547.8 M1923.9,547.8 L1930.8,547.3 M1930.8,547.3 L1937.7,547.0 M1937.7,547.0 L1944.6,547.2 M1944.6,547.2 L1951.5,548.0 M1951.5,548.0 L1958.4,549.0 M1958.4,549.0 L1965.3,549.9 M1965.3,549.9 L1972.2,550.4 M1972.2,550.4 L1979.1,550.9 M1979.1,550.9 L1986.0,551.3 M1986.0,551.3 L1992.9,551.5 M1992.9,551.5 L1999.8,551.4 M1999.8,551.4 L2006.7,551.1 M2006.7,551.1 L2013.6,550.7 M2013.6,550.7 L2020.5,550.2 M2020.5,550.2 L2027.4,549.9 M2027.4,549.9 L2034.3,549.5 M2034.3,549.5 L2041.2,549.2 M2041.2,549.2 L2048.1,548.9 M2048.1,548.9 L2055.0,548.6" fill="none" stroke="#ff0000" stroke-width="9.5" stroke-linecap="round"/>
</g>
<rect x="327" y="1033.5" width="1618" height="450" fill="#fff" stroke="none"/>
<line x1="326" y1="1033.5" x2="1949" y2="1033.5" stroke="#000" stroke-width="2.8"/>
<line x1="326.8" y1="1032" x2="326.8" y2="1482" stroke="#000" stroke-width="3"/>
<line x1="1946" y1="1032" x2="1946" y2="1482" stroke="#000" stroke-width="5.5"/>
<g fill="#000" stroke="none">
<rect x="325" y="37" width="5.5" height="997"/>
<rect x="330.5" y="37" width="2.5" height="997" fill="#555"/>
<rect x="298" y="1479.5" width="1762" height="5.5"/>
</g>
<g stroke="#000" fill="none">
<line x1="298" y1="169.2" x2="327" y2="169.2" stroke-width="5"/>
<line x1="298" y1="432.2" x2="327" y2="432.2" stroke-width="5"/>
<line x1="298" y1="695.2" x2="327" y2="695.2" stroke-width="5"/>
<line x1="298" y1="957.2" x2="327" y2="957.2" stroke-width="5"/>
<line x1="298" y1="1219.7" x2="327" y2="1219.7" stroke-width="5"/>
<line x1="298" y1="1481.7" x2="327" y2="1481.7" stroke-width="5"/>
<line x1="312" y1="38.2" x2="327" y2="38.2" stroke-width="5"/>
<line x1="312" y1="300.8" x2="327" y2="300.8" stroke-width="5"/>
<line x1="312" y1="563.2" x2="327" y2="563.2" stroke-width="5"/>
<line x1="312" y1="825.8" x2="327" y2="825.8" stroke-width="5"/>
<line x1="312" y1="1088.2" x2="327" y2="1088.2" stroke-width="5"/>
<line x1="312" y1="1350.8" x2="327" y2="1350.8" stroke-width="5"/>
<line x1="328.5" y1="1484" x2="328.5" y2="1513" stroke-width="5"/>
<line x1="674.5" y1="1484" x2="674.5" y2="1513" stroke-width="5"/>
<line x1="1018.5" y1="1484" x2="1018.5" y2="1513" stroke-width="5"/>
<line x1="1365.0" y1="1484" x2="1365.0" y2="1513" stroke-width="5"/>
<line x1="1711.5" y1="1484" x2="1711.5" y2="1513" stroke-width="5"/>
<line x1="2057.0" y1="1484" x2="2057.0" y2="1513" stroke-width="5"/>
<line x1="501.5" y1="1484" x2="501.5" y2="1498" stroke-width="5"/>
<line x1="846.5" y1="1484" x2="846.5" y2="1498" stroke-width="5"/>
<line x1="1191.8" y1="1484" x2="1191.8" y2="1498" stroke-width="5"/>
<line x1="1538.2" y1="1484" x2="1538.2" y2="1498" stroke-width="5"/>
<line x1="1884.2" y1="1484" x2="1884.2" y2="1498" stroke-width="5"/>
</g>
<line x1="360" y1="429.6" x2="2050" y2="427.0" stroke="#000" stroke-width="10.5"/>
<polygon points="319.3,429.6 322,424.5 330.5,421.5 336.1,419.3 341.2,416.4 349.6,413.6 355.3,411.2 365.4,410.8 368.5,413 368.5,446 365.4,448.6 358.1,448.6 352.5,445.9 344,443 339,439.6 336.1,437.9 329.4,435.2 321.5,434.6" fill="#000"/>
<polygon points="2044.3,410.5 2047,407.8 2052,407.8 2060.3,411.2 2068.8,414.6 2076.7,416.4 2082.3,419.2 2088,422 2090.8,424.5 2090.8,429.5 2088,431.8 2082.3,434.6 2076.7,437.4 2068.8,439.6 2060.3,443 2052,445.9 2047,445.9 2044.3,443.6" fill="#000"/>
<g font-family="Liberation Sans, Arial, sans-serif" font-weight="bold" fill="#000">
<text transform="translate(276.5,185.7) scale(0.92,1)" font-size="65.5" text-anchor="end">0</text>
<text transform="translate(276.5,448.7) scale(0.92,1)" font-size="65.5" text-anchor="end">-10</text>
<text transform="translate(276.5,711.7) scale(0.92,1)" font-size="65.5" text-anchor="end">-20</text>
<text transform="translate(276.5,973.7) scale(0.92,1)" font-size="65.5" text-anchor="end">-30</text>
<text transform="translate(276.5,1236.2) scale(0.92,1)" font-size="65.5" text-anchor="end">-40</text>
<text transform="translate(276.5,1498.2) scale(0.92,1)" font-size="65.5" text-anchor="end">-50</text>
<text transform="translate(325.9,1579.6) scale(0.91,1)" font-size="69" text-anchor="middle">1</text>
<text transform="translate(673.2,1579.6) scale(0.91,1)" font-size="69" text-anchor="middle">2</text>
<text transform="translate(1019.6,1579.6) scale(0.91,1)" font-size="69" text-anchor="middle">3</text>
<text transform="translate(1364.5,1579.6) scale(0.91,1)" font-size="69" text-anchor="middle">4</text>
<text transform="translate(1711.0,1579.6) scale(0.91,1)" font-size="69" text-anchor="middle">5</text>
<text transform="translate(2056.0,1579.6) scale(0.91,1)" font-size="69" text-anchor="middle">6</text>
</g>
<text x="1195" y="1700" text-anchor="middle" font-family="Liberation Sans, Arial, sans-serif" font-size="72" fill="#000">Freq (GHz)</text>
<text transform="translate(95.5,724) rotate(-90)" text-anchor="middle" font-family="Liberation Sans, Arial, sans-serif" font-size="72" fill="#000">Reflection Coefficient (dB)</text>
<line x1="334" y1="1084.2" x2="496" y2="1084.2" stroke="#0000f8" stroke-width="10.5" stroke-linecap="round"/>
<text x="513" y="1108.0" font-family="Liberation Sans, Arial, sans-serif" font-size="71" fill="#000">Annular Ring (Sim)</text>
<line x1="334" y1="1171.8" x2="496" y2="1171.8" stroke="#8b0000" stroke-width="10.5" stroke-linecap="round"/>
<text x="513" y="1196.0" font-family="Liberation Sans, Arial, sans-serif" font-size="71" fill="#000">First Resonator inside Annular Ring (Sim)</text>
<line x1="334" y1="1259.4" x2="496" y2="1259.4" stroke="#ff00ff" stroke-width="10.5" stroke-linecap="round"/>
<text x="513" y="1284.0" font-family="Liberation Sans, Arial, sans-serif" font-size="71" fill="#000">Second Resonator inside Annular Ring (Sim)</text>
<line x1="334" y1="1347.0" x2="496" y2="1347.0" stroke="#000000" stroke-width="10.5" stroke-linecap="round"/>
<text x="513" y="1372.0" font-family="Liberation Sans, Arial, sans-serif" font-size="71" fill="#000">Third Resonators inside Annular Ring (Sim)</text>
<line x1="336.0" y1="1434.6" x2="345.0" y2="1434.6" stroke="#ff0000" stroke-width="9.5" stroke-linecap="round"/>
<line x1="397.0" y1="1434.6" x2="406.0" y2="1434.6" stroke="#ff0000" stroke-width="9.5" stroke-linecap="round"/>
<line x1="458.0" y1="1434.6" x2="467.0" y2="1434.6" stroke="#ff0000" stroke-width="9.5" stroke-linecap="round"/>
<text x="513" y="1460.0" font-family="Liberation Sans, Arial, sans-serif" font-size="71" fill="#000">Third Resonators inside Annular Ring (Meas)</text>
<defs><clipPath id="plotclip"><rect x="331" y="38" width="1760" height="1445"/></clipPath></defs>
</svg>
</body></html>
